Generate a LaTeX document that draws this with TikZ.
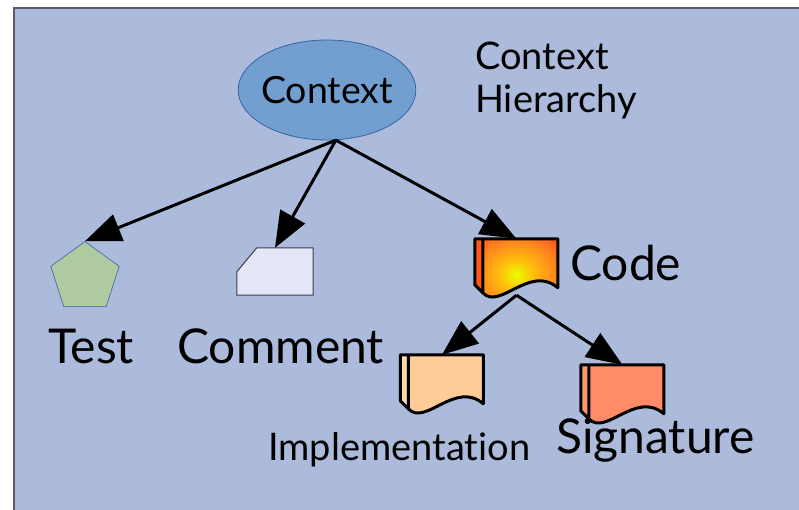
\documentclass[tikz,border=0pt]{standalone}
\usepackage{fontspec}
\setmainfont{Lato}[Ligatures=NoCommon]
\usetikzlibrary{shapes.geometric, arrows.meta, positioning, calc}
\definecolor{bgblue}{RGB}{172, 187, 220}
\definecolor{bgline}{RGB}{90, 90, 95}
\definecolor{ctxfill}{RGB}{114, 159, 207}
\definecolor{ctxline}{RGB}{52, 101, 164}
\definecolor{testfill}{RGB}{175, 201, 160}
\definecolor{cardfill}{RGB}{230, 230, 250}
\definecolor{cardline}{RGB}{60, 60, 70}
\definecolor{implfill}{RGB}{255, 204, 153}
\definecolor{implstrip}{RGB}{255, 218, 172}
\definecolor{sigfill}{RGB}{255, 140, 102}
\definecolor{sigstrip}{RGB}{255, 152, 112}
\definecolor{codestrip}{RGB}{255, 88, 32}
\pgfdeclareradialshading{codeglow}{\pgfpoint{0bp}{0bp}}{%
  rgb(0bp)=(0.91,1,0);
  rgb(10bp)=(1,0.75,0.05);
  rgb(25bp)=(1,0.5,0.12);
  rgb(36bp)=(1,0.3,0.13);
  rgb(50bp)=(1,0.3,0.13)}

% document sheet with folded strip on the left
\newcommand{\docsheet}[3]{%
  \begin{scope}[shift={(#1.north west)}]
    \path[#2] (0,0) -- (83,0) -- (83,49) .. controls (55,25) and (25,72) .. (8,54) -- (0,46) -- cycle;
    \fill[#3] (0,0) -- (8,0) -- (8,54) -- (0,46) -- cycle;
    \draw[docline] (0,0) -- (83,0) -- (83,49) .. controls (55,25) and (25,72) .. (8,54) -- (0,46) -- cycle
      (8,0) -- (8,54);
  \end{scope}}

\begin{document}
\begin{tikzpicture}[x=1pt, y=-1pt,
    bigtext/.style={font=\fontsize{48}{52}\selectfont, inner sep=0, anchor=base west},
    medtext/.style={font=\fontsize{38}{43}\selectfont, inner sep=0, anchor=base west},
    docbox/.style={minimum width=83pt, minimum height=56pt, inner sep=0},
    docline/.style={draw=black, line width=3pt, line join=round},
    link/.style={line width=3pt, -{Triangle[length=36pt, width=28pt]}}]
  \useasboundingbox (0,0) rectangle (799,510);
  \draw[fill=bgblue, draw=bgline, line width=1.5pt] (14,8) rectangle (820,530);

  % root
  \node[ellipse, fill=ctxfill, draw=ctxline, line width=0.8pt, minimum width=170pt, minimum height=100pt,
        inner xsep=-3pt, inner ysep=0pt, font=\fontsize{37.5}{43}\selectfont] (context) at (327,90) {Context};
  \node[medtext, align=left, anchor=north west] (title) at (475,42) {Context\\Hierarchy};

  % children
  \node[regular polygon, regular polygon sides=5, minimum size=72pt, inner sep=0,
        fill=testfill, draw=ctxline, line width=0.6pt] (test) at (85,277.5) {};
  \node[minimum width=76pt, minimum height=47pt, inner sep=0] (comment) at (275,271.5) {};
  \fill[cardfill, draw=cardline, line width=1pt]
    (comment.north east) -- (comment.south east) -- (comment.south west)
    -- ($(comment.north west)+(0,24)$) -- ($(comment.north west)+(20,0)$) -- cycle;
  \node[docbox] (code) at (516.5,267) {};
  \docsheet{code}{shading=codeglow}{codestrip}

  % grandchildren
  \node[docbox] (impl) at (442,383) {};
  \docsheet{impl}{fill=implfill}{implstrip}
  \node[docbox] (sig) at (622.5,393) {};
  \docsheet{sig}{fill=sigfill}{sigstrip}

  % labels
  \node[bigtext] (testlbl) at (48,363) {Test};
  \node[bigtext] (commentlbl) at (177,363) {Comment};
  \node[bigtext] (codelbl) at (570,280) {Code};
  \node[medtext] (impllbl) at (268,460) {Implementation};
  \node[bigtext] (siglbl) at (556,453) {Signature};

  % hierarchy
  \draw[link] (context.-80) -- (test.corner 1);
  \draw[link] (context.-80) -- (comment.north);
  \draw[link] (context.-80) -- (code.north);
  \draw[link] (code.south) -- (impl.north);
  \draw[link] (code.south) -- (sig.north);
\end{tikzpicture}
\end{document}
